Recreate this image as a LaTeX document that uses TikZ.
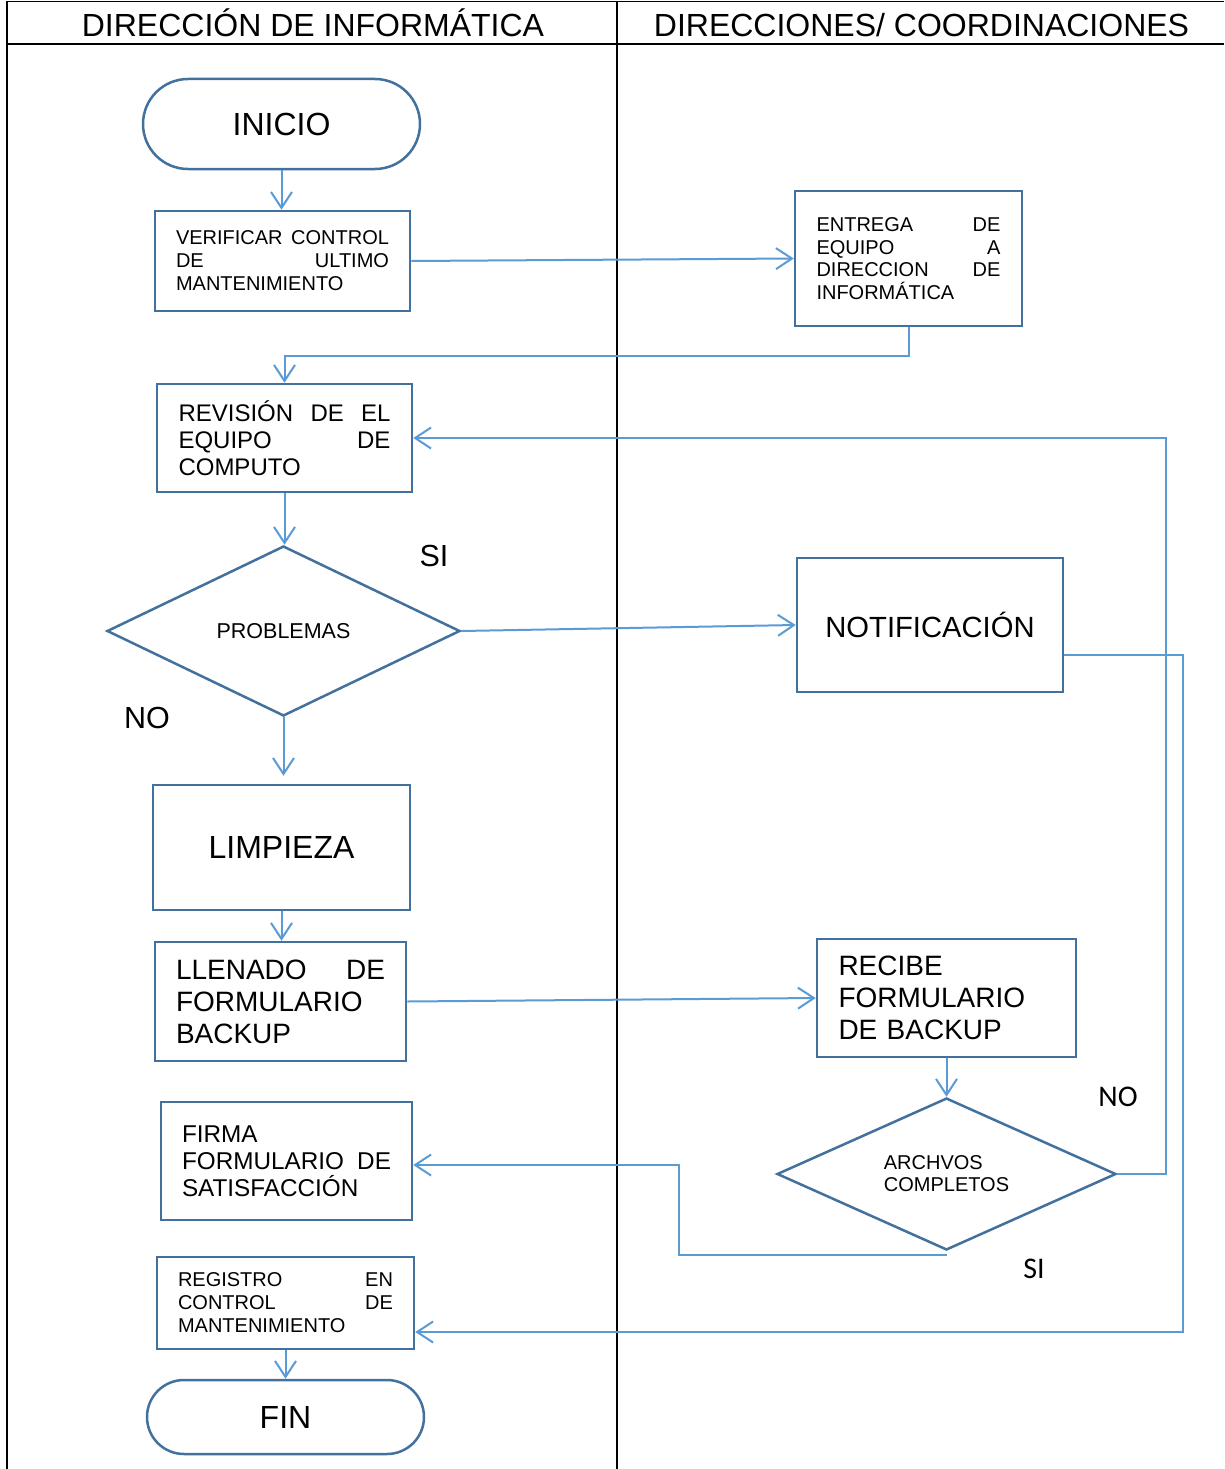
\documentclass[tikz,border=0pt]{standalone}
\usepackage{fontspec}
\setmainfont{Liberation Sans}
\newfontfamily\calib{Carlito}
\usetikzlibrary{arrows.meta,shapes.geometric}
\definecolor{boxblue}{HTML}{41719C}
\definecolor{linkblue}{HTML}{5B9BD5}
\begin{document}
\begin{tikzpicture}[x=1pt,y=-1pt,
  box/.style={draw=boxblue,line width=2.5pt,inner ysep=0pt,fill=white},
  stadium/.style={box,inner sep=0pt},
  decision/.style={draw=boxblue,line width=2.5pt,diamond,inner sep=0pt},
  conn/.style={draw=linkblue,line width=2pt,-{Straight Barb[length=16pt,width=21pt,line width=2pt]}},
  grid/.style={draw=black,line width=1.6pt},
  lbl/.style={font={\calib\fontsize{30}{30}\selectfont}},
  lbla/.style={font={\fontsize{30.5}{30.5}\selectfont}},
  hdr/.style={font={\fontsize{32}{32}\selectfont},anchor=base}
]
\useasboundingbox (0,0) rectangle (1224,1469);
\fill[white] (0,0) rectangle (1224,1469);
% table
\draw[grid] (7,1.5) -- (1224,1.5);
\draw[grid] (7,44) -- (1224,44);
\draw[grid] (7,1.5) -- (7,1469);
\draw[grid] (617,1.5) -- (617,1469);
\node[hdr] (h1) at (313,37) {DIRECCIÓN DE INFORMÁTICA};
\node[hdr] (h2) at (921.5,37) {DIRECCIONES/ COORDINACIONES};

% nodes
\node[stadium,rounded corners=45pt,minimum width=277pt,minimum height=90pt,
  font={\fontsize{32}{32}\selectfont}] (inicio) at (281.5,124) {INICIO};
\node[box,minimum height=100pt,text width=213pt,inner xsep=21pt,align=left,
  font={\fontsize{20}{23}\selectfont}] (verif) at (282.5,261)
  {VERIFICAR\hfill CONTROL\\DE\hfill ULTIMO\\MANTENIMIENTO};
\node[box,minimum height=135pt,text width=184pt,inner xsep=21.5pt,align=left,
  font={\fontsize{20}{22.7}\selectfont}] (entrega) at (908.5,258.5)
  {ENTREGA\hfill DE\\EQUIPO\hfill A\\DIRECCION\hfill DE\\INFORMÁTICA};
\node[box,minimum height=108pt,text width=212pt,inner xsep=21.5pt,align=left,
  font={\fontsize{24}{27}\selectfont}] (revision) at (284.5,438)
  {REVISIÓN\hfill DE\hfill EL\\EQUIPO\hfill DE\\COMPUTO};
\node[decision,aspect=2.08,minimum width=353pt,minimum height=170pt,
  font={\fontsize{21.5}{22}\selectfont}] (prob) at (283.5,631) {PROBLEMAS};
\node[box,minimum width=266pt,minimum height=134pt,inner sep=0pt,
  font={\fontsize{29.2}{29.2}\selectfont}] (notif) at (930,625) {NOTIFICACIÓN};
\node[box,minimum width=257pt,minimum height=125pt,inner sep=0pt,
  font={\fontsize{32}{32}\selectfont}] (limp) at (281.5,847.5) {LIMPIEZA};
\node[box,minimum height=119pt,text width=209pt,inner xsep=21pt,align=left,
  font={\fontsize{28}{32}\selectfont}] (llen) at (280.5,1001.5)
  {LLENADO\hfill DE\\FORMULARIO\\BACKUP};
\node[box,minimum height=118pt,text width=216pt,inner xsep=21.5pt,align=left,
  font={\fontsize{28}{32}\selectfont}] (recibe) at (946.5,998)
  {RECIBE\\FORMULARIO\\DE BACKUP};
\node[decision,aspect=2.23,minimum width=339pt,minimum height=152pt,align=left,
  font={\fontsize{20}{22}\selectfont}] (arch) at (946.5,1174) {ARCHVOS\\COMPLETOS};
\node[box,minimum height=118pt,text width=209pt,inner xsep=21pt,align=left,
  font={\fontsize{24.3}{27}\selectfont}] (firma) at (286.5,1161)
  {FIRMA\\FORMULARIO\hfill DE\\SATISFACCIÓN};
\node[box,minimum height=92pt,text width=215pt,inner xsep=21pt,align=left,
  font={\fontsize{20}{23}\selectfont}] (registro) at (285.5,1303)
  {REGISTRO\hfill EN\\CONTROL\hfill DE\\MANTENIMIENTO};
\node[stadium,rounded corners=37pt,minimum width=277pt,minimum height=74pt,
  font={\fontsize{32}{32}\selectfont}] (fin) at (285.5,1417) {FIN};

% labels
\node[lbla] (si1) at (434,556) {SI};
\node[lbla] (no1) at (147,718) {NO};
\node[lbl] (no2) at (1118,1097) {NO};
\node[lbl] (si2) at (1034,1269) {SI};

% connectors
\draw[conn] (inicio.south) -- (inicio.south |- verif.north);
\draw[conn] (verif.east) -- (entrega.west);
\draw[conn] (entrega.south) -- ++(0,29) -| (revision.north);
\draw[conn] (revision.south) -- (revision.south |- prob.north);
\draw[conn] (prob.east) -- (notif.west);
\draw[conn] (prob.south) -- ([yshift=8pt]prob.south |- limp.north);
\draw[conn] (limp.south) -- (limp.south |- llen.north);
\draw[conn] (llen.east) -- (recibe.west);
\draw[conn] (recibe.south) -- (arch.north);
\draw[conn] (arch.east) -- ++(49,0) |- (revision.east);
\draw[conn] ([yshift=-4pt]arch.south) -- ++(-268,0) |- ([yshift=-4pt]firma.east);
\draw[conn] ([yshift=-30pt]notif.east) -- ++(119,0) |- ([yshift=-29pt]registro.east);
\draw[conn] (registro.south) -- (registro.south |- fin.north);
\end{tikzpicture}
\end{document}
